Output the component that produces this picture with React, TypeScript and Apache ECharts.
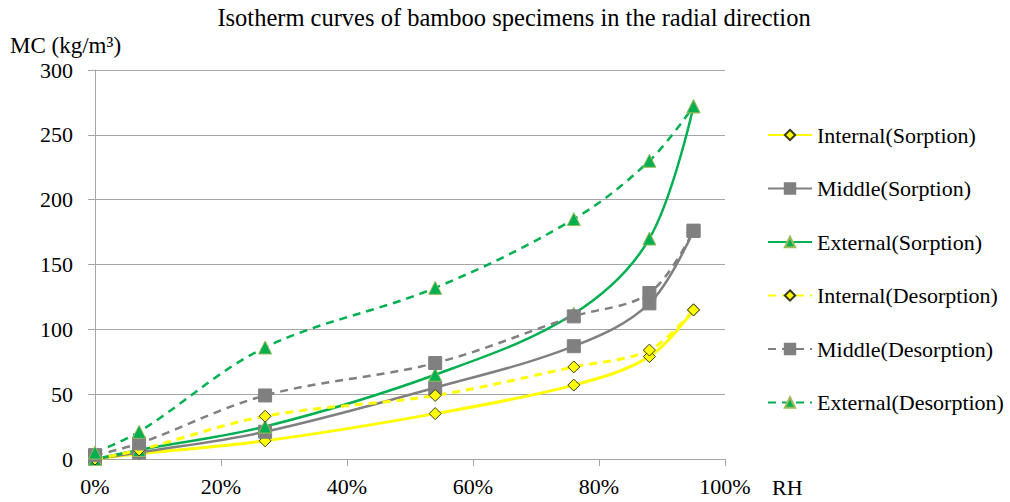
import React, { useEffect, useRef } from "react";
import * as echarts from "echarts";

const RH = [0, 7, 27, 54, 76, 88, 95];
const internalSorption = [0, 4, 14, 35, 57, 79, 115];
const middleSorption = [0, 5, 21, 55, 87, 120, 176];
const externalSorption = [0, 7, 25, 65, 112, 170, 272];
const internalDesorption = [0, 7, 33, 49, 71, 84, 115];
const middleDesorption = [3, 12, 49, 74, 110, 128, 176];
const externalDesorption = [5, 21, 86, 132, 185, 230, 272];

const seriesNames = [
  "Internal(Sorption)",
  "Middle(Sorption)",
  "External(Sorption)",
  "Internal(Desorption)",
  "Middle(Desorption)",
  "External(Desorption)",
];
const seriesValues = [
  internalSorption,
  middleSorption,
  externalSorption,
  internalDesorption,
  middleDesorption,
  externalDesorption,
];

const FONT = "'Liberation Serif', 'Times New Roman', serif";
const YELLOW = "#FFFF00";
const GRAY = "#808080";
const GREEN = "#00B050";

const styleFor = (i: number) => {
  const kind = i % 3;
  const dashed = i >= 3;
  const color = kind === 0 ? YELLOW : kind === 1 ? GRAY : GREEN;
  const symbol = kind === 0 ? "diamond" : kind === 1 ? "rect" : "triangle";
  const symbolSize = kind === 0 ? 12 : 13;
  const borderColor = kind === 0 ? "#3a3a20" : kind === 1 ? GRAY : "#9BBB59";
  return { color, symbol, symbolSize, borderColor, dashed };
};

export default function App() {
  const ref = useRef<HTMLDivElement>(null);
  useEffect(() => {
    if (!ref.current) return;
    const chart = echarts.init(ref.current, null, { renderer: "svg" });
    const series = seriesNames.map((name, i) => {
      const s = styleFor(i);
      return {
        name,
        type: "line",
        smooth: 0.35,
        data: RH.map((x, j) => [x, seriesValues[i][j]]),
        symbol: s.symbol,
        symbolSize: s.symbolSize,
        showAllSymbol: true,
        lineStyle: {
          color: s.color,
          width: i % 3 === 0 ? 3 : 2.5,
          type: s.dashed ? [8, 6] : "solid",
        },
        itemStyle: {
          color: s.color,
          borderColor: s.borderColor,
          borderWidth: 1,
        },
        emphasis: { disabled: true },
      };
    });
    chart.setOption({
      animation: false,
      backgroundColor: "#ffffff",
      title: {
        text: "Isotherm curves of bamboo specimens in the radial direction",
        left: 509,
        textAlign: "center",
        top: 0,
        textStyle: {
          fontFamily: FONT,
          fontSize: 24.5,
          fontWeight: "normal",
          color: "#000",
        },
      },
      graphic: [
        {
          type: "text",
          left: 10,
          top: 34,
          style: {
            text: "MC (kg/m³)",
            font: `23px ${FONT}`,
            fill: "#000",
          },
        },
        {
          type: "text",
          left: 772,
          top: 476,
          style: {
            text: "RH",
            font: `22px ${FONT}`,
            fill: "#000",
          },
        },
      ],
      legend: {
        orient: "vertical",
        left: 762,
        top: 119,
        itemWidth: 44,
        itemHeight: 13,
        itemGap: 31.5,
        selectedMode: false,
        textStyle: {
          fontFamily: FONT,
          fontSize: 22,
          lineHeight: 22,
          color: "#000",
        },
        data: seriesNames,
      },
      grid: { left: 95, right: 285, top: 70, bottom: 43 },
      xAxis: {
        type: "value",
        min: 0,
        max: 100,
        interval: 20,
        axisLine: { show: true, lineStyle: { color: "#A6A6A6", width: 1 } },
        axisTick: { show: true, length: 7, lineStyle: { color: "#A6A6A6" } },
        splitLine: { show: false },
        axisLabel: {
          formatter: "{value}%",
          margin: 16,
          fontFamily: FONT,
          fontSize: 22,
          color: "#000",
        },
      },
      yAxis: {
        type: "value",
        min: 0,
        max: 300,
        interval: 50,
        axisLine: { show: true, lineStyle: { color: "#A6A6A6", width: 1 } },
        axisTick: { show: true, length: 7, lineStyle: { color: "#A6A6A6" } },
        splitLine: { show: true, lineStyle: { color: "#A6A6A6", width: 1 } },
        axisLabel: {
          margin: 22,
          fontFamily: FONT,
          fontSize: 22,
          color: "#000",
        },
      },
      series,
    });
    return () => chart.dispose();
  }, []);
  return (
    <div
      ref={ref}
      style={{ position: "fixed", left: 0, top: 0, width: 1010, height: 502, background: "#fff" }}
    />
  );
}
